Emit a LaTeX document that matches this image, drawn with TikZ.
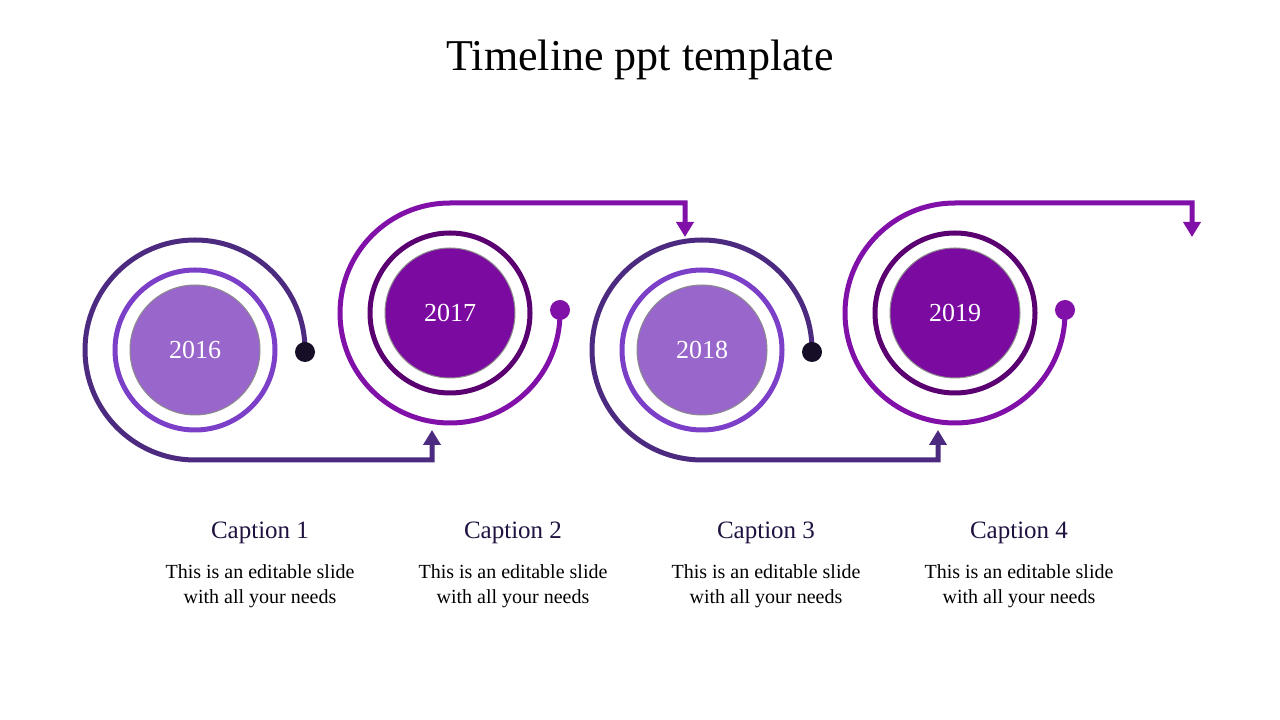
\documentclass[tikz,border=0pt]{standalone}
\usepackage{fontspec}
\setmainfont{Liberation Serif}
\usetikzlibrary{arrows.meta}
\definecolor{indigoline}{HTML}{4B2A80}
\definecolor{plumline}{HTML}{8010A8}
\definecolor{lilacring}{HTML}{7B3FC8}
\definecolor{lilacfill}{HTML}{9966CC}
\definecolor{plumring}{HTML}{5A0070}
\definecolor{plumfill}{HTML}{7B0AA0}
\definecolor{capnavy}{HTML}{1F1240}
\tikzset{
  spiral/.style={line width=5pt},
  tip/.style={-{Triangle[length=15pt,width=17pt]}},
  ring/.style={circle,line width=5pt,minimum size=160pt,inner sep=0pt},
  year/.style={circle,minimum size=130pt,inner sep=0pt,text=white,draw=black!45,line width=1pt,font=\fontsize{26}{30}\selectfont},
  dot/.style={circle,minimum size=20pt,inner sep=0pt},
  captext/.style={text=capnavy,font=\fontsize{25}{30}\selectfont},
  body/.style={align=center,font=\fontsize{20}{25}\selectfont}
}
\begin{document}
\begin{tikzpicture}[x=1pt,y=1pt]
	\useasboundingbox (0,0) rectangle (1280,720);
	% title
	\node (title) at (640,660) {\fontsize{44}{50}\selectfont Timeline ppt template};

	% 2016
	\node[ring,draw=lilacring] (r1) at (195,370) {};
	\node[year,fill=lilacfill] (y1) at (195,370) {2016};
	\draw[spiral,indigoline,tip] (305,370) arc (0:270:110) -- (432,260) coordinate (a1) -- (432,290);
	\node[dot,fill=black!70!indigoline] (d1) at (305,368) {};

	% 2017
	\node[ring,draw=plumring] (r2) at (450,407) {};
	\node[year,fill=plumfill] (y2) at (450,407) {2017};
	\draw[spiral,plumline,tip] (560,407) arc (0:-270:110) -- (685,517) coordinate (a2) -- (685,483);
	\node[dot,fill=plumline] (d2) at (560,410) {};

	% 2018
	\node[ring,draw=lilacring] (r3) at (702,370) {};
	\node[year,fill=lilacfill] (y3) at (702,370) {2018};
	\draw[spiral,indigoline,tip] (812,370) arc (0:270:110) -- (938,260) coordinate (a3) -- (938,290);
	\node[dot,fill=black!70!indigoline] (d3) at (812,368) {};

	% 2019
	\node[ring,draw=plumring] (r4) at (955,407) {};
	\node[year,fill=plumfill] (y4) at (955,407) {2019};
	\draw[spiral,plumline,tip] (1065,407) arc (0:-270:110) -- (1192,517) coordinate (a4) -- (1192,483);
	\node[dot,fill=plumline] (d4) at (1065,410) {};

	% captions
	\node[captext] (c1) at (260,187) {Caption 1};
	\node[captext] (c2) at (513,187) {Caption 2};
	\node[captext] (c3) at (766,187) {Caption 3};
	\node[captext] (c4) at (1019,187) {Caption 4};
	\node[body] (t1) at (260,134) {This is an editable slide\\with all your needs};
	\node[body] (t2) at (513,134) {This is an editable slide\\with all your needs};
	\node[body] (t3) at (766,134) {This is an editable slide\\with all your needs};
	\node[body] (t4) at (1019,134) {This is an editable slide\\with all your needs};
\end{tikzpicture}
\end{document}
